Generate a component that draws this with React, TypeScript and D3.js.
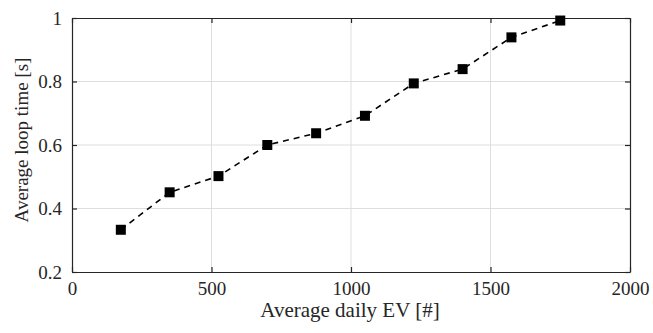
import { useEffect, useRef } from "react";
import * as d3 from "d3";

const evCounts = [175, 350, 525, 700, 875, 1050, 1225, 1400, 1575, 1750];
const loopTimes = [0.333, 0.451, 0.502, 0.6, 0.637, 0.692, 0.794, 0.839, 0.939, 0.992];
const xTicks = [0, 500, 1000, 1500, 2000];
const yTicks = [0.2, 0.4, 0.6, 0.8, 1];

export default function App() {
  const ref = useRef<SVGSVGElement>(null);

  useEffect(() => {
    const width = 653;
    const height = 333;
    const margin = { top: 18, right: 23, bottom: 61, left: 72 };
    const font = "Liberation Serif";

    const x = d3.scaleLinear([0, 2000], [margin.left, width - margin.right]);
    const y = d3.scaleLinear([0.2, 1], [height - margin.bottom, margin.top]);

    const svg = d3.select(ref.current);
    svg.selectAll("*").remove();

    // grid
    svg.append("g")
      .selectAll("line")
      .data(xTicks.slice(1, -1))
      .join("line")
      .attr("x1", d => x(d)).attr("x2", d => x(d))
      .attr("y1", y(0.2)).attr("y2", y(1))
      .attr("stroke", "#dedede");
    svg.append("g")
      .selectAll("line")
      .data(yTicks.slice(1, -1))
      .join("line")
      .attr("x1", x(0)).attr("x2", x(2000))
      .attr("y1", d => y(d)).attr("y2", d => y(d))
      .attr("stroke", "#dedede");

    // axes (ticks inward, mirrored)
    const axes = [
      { ax: d3.axisBottom(x).tickValues(xTicks).tickFormat(d3.format("d")), t: `translate(0,${y(0.2)})`, labels: true },
      { ax: d3.axisTop(x).tickValues(xTicks), t: `translate(0,${y(1)})`, labels: false },
      { ax: d3.axisLeft(y).tickValues(yTicks).tickFormat(d => `${d}`), t: `translate(${x(0)},0)`, labels: true },
      { ax: d3.axisRight(y).tickValues(yTicks), t: `translate(${x(2000)},0)`, labels: false },
    ];
    axes.forEach(({ ax, t, labels }) => {
      const g = svg.append("g")
        .attr("transform", t)
        .call(ax.tickSizeInner(-5).tickSizeOuter(0).tickPadding(10));
      g.select(".domain").attr("stroke", "#262626").attr("stroke-width", 1.2);
      g.selectAll(".tick line").attr("stroke", "#262626").attr("stroke-width", 1.2);
      g.selectAll(".tick text")
        .attr("fill", "#262626")
        .attr("font-family", font)
        .attr("font-size", 19)
        .style("display", labels ? null : "none");
    });

    // dashed line
    const line = d3.line<number>()
      .x((d, i) => x(evCounts[i]))
      .y(d => y(d));
    svg.append("path")
      .datum(loopTimes)
      .attr("fill", "none")
      .attr("stroke", "#000")
      .attr("stroke-width", 1.6)
      .attr("stroke-dasharray", "6,5")
      .attr("d", line);

    // markers
    svg.append("g")
      .selectAll("rect")
      .data(loopTimes)
      .join("rect")
      .attr("x", (d, i) => x(evCounts[i]) - 5)
      .attr("y", d => y(d) - 5)
      .attr("width", 10)
      .attr("height", 10)
      .attr("fill", "#000");

    // labels
    svg.append("text")
      .attr("x", 350)
      .attr("y", 317)
      .attr("text-anchor", "middle")
      .attr("fill", "#262626")
      .attr("font-family", font)
      .attr("font-size", 21)
      .text("Average daily EV [#]");

    svg.append("text")
      .attr("transform", "rotate(-90)")
      .attr("x", -140)
      .attr("y", 28)
      .attr("text-anchor", "middle")
      .attr("fill", "#262626")
      .attr("font-family", font)
      .attr("font-size", 19)
      .text("Average loop time [s]");
  }, []);

  return (
    <svg ref={ref} width={653} height={333}
      style={{ position: "absolute", left: 0, top: 0, background: "#fff" }} />
  );
}
